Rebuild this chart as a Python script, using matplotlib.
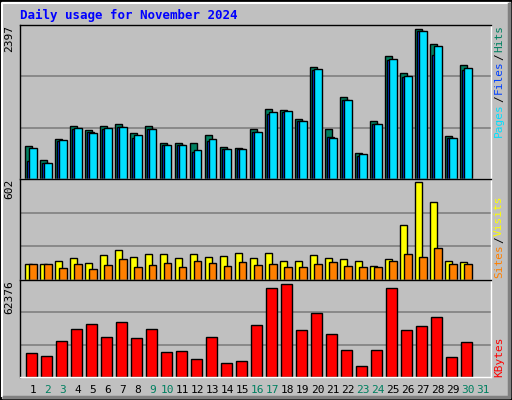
import matplotlib.pyplot as plt
from matplotlib.patches import Rectangle
import numpy as np

days = list(range(1, 31))
hits = [526, 298, 645, 851, 786, 851, 884, 738, 851, 575, 575, 575, 705, 510, 493,
        803, 1128, 1112, 965, 1795, 803, 1307, 412, 933, 1974, 1697, 2397, 2169, 689, 1828]
files = [282, 250, 613, 803, 754, 803, 835, 655, 803, 542, 542, 428, 607, 477, 477,
         754, 1047, 1080, 933, 1746, 672, 1274, 363, 884, 1909, 1633, 2380, 1991, 656, 1746]
pages = [493, 250, 623, 819, 737, 819, 835, 705, 803, 542, 542, 461, 640, 477, 477,
         754, 1080, 1096, 933, 1762, 656, 1274, 396, 884, 1925, 1649, 2380, 2137, 656, 1779]
visits = [100, 100, 119, 132, 106, 152, 185, 139, 158, 158, 132, 158, 139, 145, 165,
          132, 165, 119, 119, 152, 132, 126, 119, 87, 126, 335, 602, 478, 119, 113]
sites = [100, 100, 74, 100, 67, 93, 126, 80, 93, 106, 80, 119, 106, 87, 113,
         93, 100, 80, 80, 100, 113, 87, 80, 80, 119, 158, 139, 198, 100, 100]
kbytes = [15933, 13885, 24127, 32320, 35734, 26858, 37100, 26175, 32320, 16616, 17299, 11836,
          26858, 9105, 10470, 35051, 59634, 62376, 31638, 42562, 28906, 17982, 7057, 17982,
          59634, 31638, 34369, 39831, 13202, 23444]
xlabels = [str(d) for d in range(1, 32)]
weekend = {2, 3, 9, 10, 16, 17, 23, 24, 30, 31}

W, H = 512, 400
fig = plt.figure(figsize=(W / 100, H / 100), dpi=100)
fig.patch.set_facecolor('#C0C0C0')
# border + bevel
fig.patches.append(Rectangle((0, 0), 1, 1, transform=fig.transFigure, fill=False,
                             edgecolor='black', linewidth=2))
fig.add_artist(plt.Line2D([2/W, 2/W, 1 - 4/W], [4/H, 1 - 3/H, 1 - 3/H], color='white',
                          linewidth=1.5, transform=fig.transFigure))
fig.add_artist(plt.Line2D([4/W, 1 - 3/W, 1 - 3/W], [3/H, 3/H, 1 - 4/H], color='#808080',
                          linewidth=2.5, transform=fig.transFigure))

mono = 'DejaVu Sans Mono'
fig.text(20/W, 1 - 15/H, 'Daily usage for November 2024', color='#0000FF', family=mono,
         fontweight='bold', fontsize=9, va='center', ha='left')

x0, x1 = 20, 491
xlim = (0.67, 32.07)


def panel(top, bottom):
    ax = fig.add_axes([x0/W, 1 - bottom/H, (x1 - x0)/W, (bottom - top)/H])
    ax.set_facecolor('#C0C0C0')
    ax.set_xlim(*xlim)
    ax.set_xticks([])
    ax.set_yticks([])
    for s in ax.spines.values():
        s.set_color('black')
        s.set_linewidth(1)
    ax.spines['bottom'].set_color('white')
    ax.spines['right'].set_color('white')
    return ax


d = np.array(days)
kw = dict(align='edge', edgecolor='black', linewidth=1)

ax1 = panel(25, 179)
ax1.set_ylim(0, 2397 * 1.03)
for f in (1/3, 2/3):
    ax1.axhline(2397 * 1.03 * f, color='#808080', lw=1.2, zorder=0)
ax1.bar(d, hits, 0.5, color='#008060', **kw)
ax1.bar(d + 0.13, files, 0.5, color='#0040FF', **kw)
ax1.bar(d + 0.27, pages, 0.5, color='#00E0FF', **kw)

ax2 = panel(179, 280)
ax2.set_ylim(0, 602 * 1.03)
for f in (1/3, 2/3):
    ax2.axhline(602 * 1.03 * f, color='#808080', lw=1.2, zorder=0)
ax2.bar(d, visits, 0.5, color='#FFFF00', **kw)
ax2.bar(d + 0.27, sites, 0.5, color='#FF8000', **kw)

ax3 = panel(280, 377)
ax3.set_ylim(0, 62376 * 1.04)
for f in (1/3, 2/3):
    ax3.axhline(62376 * 1.04 * f, color='#808080', lw=1.2, zorder=0)
ax3.bar(d + 0.07, kbytes, 0.71, color='#FF0000', **kw)
ax3.set_xticks(np.arange(1, 32) + 0.53)
ax3.set_xticklabels(xlabels, family=mono, fontsize=8)
ax3.tick_params(axis='x', length=0, pad=6)
for lab, dd in zip(ax3.get_xticklabels(), range(1, 32)):
    lab.set_color('#008060' if dd in weekend else 'black')

for ax, v in ((ax1, '2397'), (ax2, '602'), (ax3, '62376')):
    ax.text(-0.012, 1.0, v, transform=ax.transAxes, rotation=90, ha='right', va='top',
            family=mono, fontsize=8)

renderer = fig.canvas.get_renderer()


def side(parts, y_bottom):
    # stack rotated text pieces upward from the bottom, using real extents
    y = H - y_bottom
    for txt, col in parts:
        t = fig.text(499/W, y/H, txt, rotation=90, color=col, family=mono, fontsize=8,
                     ha='center', va='bottom')
        y += t.get_window_extent(renderer).height + 1


side([('Pages', '#00E0FF'), ('/', 'black'), ('Files', '#0040FF'), ('/', 'black'),
      ('Hits', '#008060')], 137)
side([('Sites', '#FF8000'), ('/', 'black'), ('Visits', '#FFFF00')], 278)
side([('KBytes', '#FF0000')], 377)

fig.savefig('out.png', dpi=100, facecolor=fig.get_facecolor())
